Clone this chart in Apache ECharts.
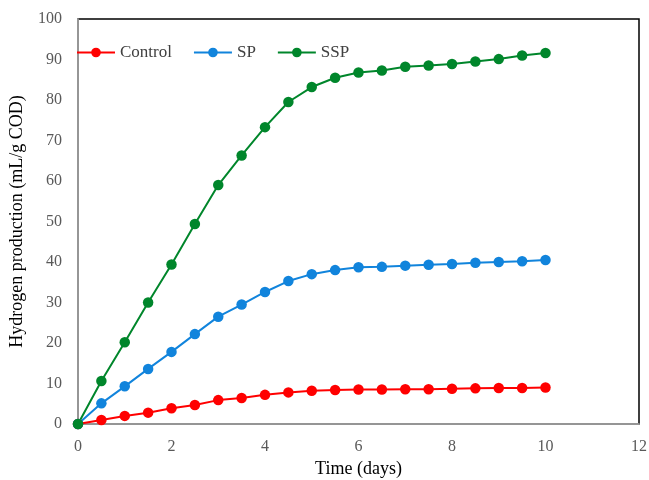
<!DOCTYPE html>
<html><head><meta charset="utf-8">
<script src="https://cdn.jsdelivr.net/npm/echarts@6/dist/echarts.min.js"></script>
<style>html,body{margin:0;padding:0;background:#fff}#c{width:649px;height:480px}</style>
</head><body><div id="c"></div>
<script>
var days = [0,0.5,1,1.5,2,2.5,3,3.5,4,4.5,5,5.5,6,6.5,7,7.5,8,8.5,9,9.5,10];
var control = [0,1.0,2.0,2.8,3.9,4.7,5.9,6.4,7.2,7.8,8.2,8.4,8.5,8.5,8.6,8.6,8.7,8.8,8.9,8.9,9.0];
var sp = [0,5.1,9.3,13.6,17.8,22.2,26.5,29.5,32.6,35.3,37.0,38.0,38.7,38.8,39.1,39.3,39.5,39.8,40.0,40.2,40.5];
var ssp = [0,10.6,20.2,30.0,39.4,49.4,59.0,66.3,73.3,79.5,83.2,85.5,86.8,87.3,88.2,88.5,88.9,89.5,90.1,91.0,91.6];
var xTicks = [0,2,4,6,8,10,12];
var yTicks = [0,10,20,30,40,50,60,70,80,90,100];

function pairs(v){ return days.map(function(d,i){ return [d, v[i]]; }); }
var font = 'Liberation Serif, Times New Roman, serif';
function mk(name, vals, color){
  return {name:name, type:'line', data:pairs(vals), symbol:'circle', symbolSize:10.5,
    lineStyle:{color:color, width:2}, itemStyle:{color:color}, z:3};
}
var chart = echarts.init(document.getElementById('c'));
chart.setOption({
  animation:false,
  textStyle:{fontFamily:font},
  grid:{left:78, top:19, right:10, bottom:56, outerBoundsMode:'none', containLabel:false,
    show:true, borderColor:'#000', borderWidth:1.5, backgroundColor:'transparent'},
  legend:{left:71, top:39, itemWidth:38, itemHeight:12, itemGap:21,
    textStyle:{fontFamily:font, fontSize:17, color:'#404040'},
    data:['Control','SP','SSP']},
  xAxis:{type:'value', min:xTicks[0], max:xTicks[xTicks.length-1], interval:2,
    name:'Time (days)', nameLocation:'middle', nameGap:36,
    nameTextStyle:{fontFamily:font, fontSize:18, color:'#000'},
    axisLine:{show:true, lineStyle:{color:'#b3b3b3', width:1.5}},
    axisTick:{show:false}, splitLine:{show:false},
    axisLabel:{fontFamily:font, fontSize:16, color:'#595959', margin:15}},
  yAxis:{type:'value', min:yTicks[0], max:yTicks[yTicks.length-1], interval:10,
    name:'Hydrogen production (mL/g COD)', nameLocation:'middle', nameGap:52,
    nameTextStyle:{fontFamily:font, fontSize:18, color:'#000'},
    axisLine:{show:true, lineStyle:{color:'#b3b3b3', width:1.5}},
    axisTick:{show:false}, splitLine:{show:false},
    axisLabel:{fontFamily:font, fontSize:16, color:'#595959', margin:16}},
  series:[mk('Control', control, '#ff0000'), mk('SP', sp, '#1184dc'), mk('SSP', ssp, '#00862b')]
});
</script></body></html>
